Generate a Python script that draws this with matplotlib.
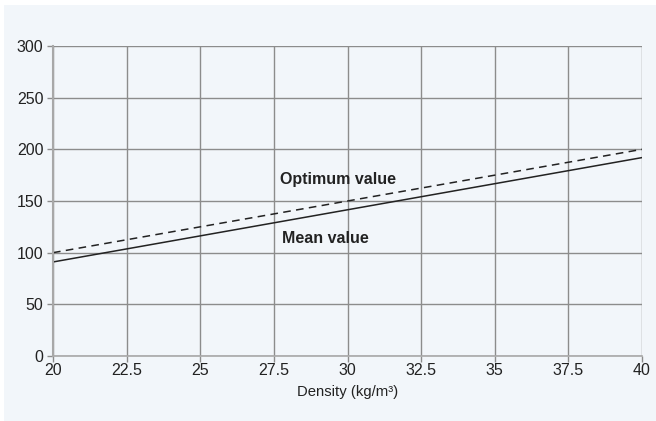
import numpy as np
import matplotlib.pyplot as plt
from matplotlib.patches import Rectangle

plt.rcParams['font.family'] = ['Liberation Sans', 'DejaVu Sans']

# Data
density = [20, 40]
mean_value = [91, 192]
optimum_value = [100, 200]
xticks = [20, 22.5, 25, 27.5, 30, 32.5, 35, 37.5, 40]
xtick_labels = ['20', '22.5', '25', '27.5', '30', '32.5', '35', '37.5', '40']
yticks = [0, 50, 100, 150, 200, 250, 300]

bg = '#f2f6fa'
grid_col = '#8c8c8c'

fig = plt.figure(figsize=(6.56, 4.21), dpi=100, facecolor='white')
fig.patches.append(Rectangle((4 / 656, 0), 1, 1 - 5 / 421, transform=fig.transFigure,
                             facecolor=bg, edgecolor='none', zorder=-1))
ax = fig.add_axes([53 / 656, 1 - 356 / 421, 589 / 656, 310 / 421])
ax.set_facecolor(bg)

ax.plot(density, optimum_value, color='#222222', lw=1.1, ls=(0, (5, 3.5)))
ax.plot(density, mean_value, color='#222222', lw=1.1)

ax.text(27.72, 171, 'Optimum value', fontsize=11.5, fontweight='bold', color='#222222', va='center')
ax.text(27.76, 114, 'Mean value', fontsize=11.5, fontweight='bold', color='#222222', va='center')

ax.set_xlim(20, 40)
ax.set_ylim(0, 300)
ax.set_xticks(xticks)
ax.set_xticklabels(xtick_labels)
ax.set_yticks(yticks)
ax.grid(True, color=grid_col, lw=1)
ax.set_axisbelow(True)

for s in ['top', 'right']:
    ax.spines[s].set_visible(False)
ax.spines['left'].set_color('#a8a8a8')
ax.spines['left'].set_linewidth(1.5)
ax.spines['bottom'].set_color('#a8a8a8')
ax.spines['bottom'].set_linewidth(1.2)

ax.tick_params(axis='both', colors='#8c8c8c', labelcolor='#222222', labelsize=11.5,
               length=4, width=1)
ax.tick_params(axis='x', pad=1)
ax.tick_params(axis='y', pad=3)
ax.set_xlabel('Density (kg/m³)', fontsize=10.7, color='#222222', labelpad=5)

fig.savefig('out.png', dpi=100, facecolor=fig.get_facecolor())
